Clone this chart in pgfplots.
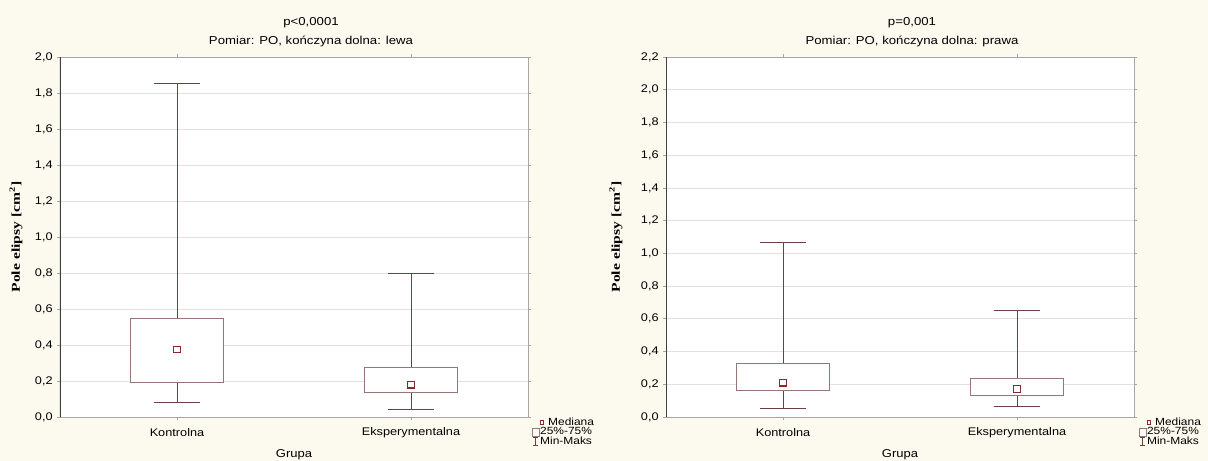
\documentclass[border=0pt]{standalone}
\usepackage{fontspec}
\setmainfont{Liberation Sans}[FakeStretch=1.15]
\newfontfamily\ylabfont{Liberation Serif}[FakeStretch=1.3]
\usepackage{pgfplots}
\pgfplotsset{compat=1.18}
\usepgfplotslibrary{statistics}
\definecolor{bg}{RGB}{252,249,239}
\definecolor{boxc}{RGB}{150,118,118}
\definecolor{whc}{RGB}{105,65,65}
\definecolor{medc}{RGB}{140,40,50}
\definecolor{gridc}{RGB}{225,225,225}
\pgfplotsset{
  mystyle/.style={
    scale only axis, width=351pt, height=270pt,
    anchor=south west,
    xmin=-0.5, xmax=1.5, ymin=0,
    xtick={0,1}, xticklabels={Kontrolna,Eksperymentalna},
    ymajorgrids, grid style={gridc, line width=0.5pt},
    axis line style={gray!70, line width=0.6pt},
    tick style={gray!70, line width=0.5pt},
    tick align=outside, major tick length=2pt,
    axis background/.style={fill=white},
    ticklabel style={font=\fontsize{8.3}{9}\selectfont},
    /pgf/number format/use comma,
    /pgf/number format/fixed,
    /pgf/number format/fixed zerofill,
    /pgf/number format/precision=1,
    /pgf/number format/assume math mode=true,
    xticklabel style={anchor=center, yshift=-10pt},
    xlabel={Grupa},
    xlabel style={at={(axis description cs:0.5,-0.105)}, anchor=center, font=\fontsize{8.5}{10}\selectfont},
    ylabel={\ylabfont\bfseries Pole elipsy [cm\textsuperscript{2}]},
    ylabel style={anchor=center, font=\fontsize{9}{10}\selectfont},
    legend style={draw=none, fill=none, anchor=north west,
      font=\fontsize{7.8}{8.5}\selectfont,
      row sep=-1.2pt, inner sep=0pt, nodes={inner sep=0.6pt}},
    legend cell align=left,
  },
  bx/.style={forget plot, boxplot/draw direction=y,
    boxplot/every box/.style={draw=boxc, fill=white, line width=0.6pt},
    boxplot/every whisker/.style={draw=whc, line width=0.6pt},
    boxplot/every median/.style={draw opacity=0},
    boxplot/box extend=0.4, boxplot/whisker extend=0.2},
  md/.style={forget plot, only marks, mark=square*, mark size=2.3pt,
    mark options={draw=medc, fill=white, line width=0.8pt}},
}
\newcommand{\legendentries}{%
  \addlegendimage{draw=none, fill=none, legend image code/.code={\path[draw=none, fill=none] (0pt,-3.2pt) rectangle (5.2pt,3.2pt);
      \draw[overlay, draw=medc, line width=0.7pt, fill=white] (5.8pt,-1.5pt) rectangle (8.6pt,1.5pt);}}
  \addlegendentry{\hspace{6pt}Mediana}
  \addlegendimage{draw=none, fill=none, legend image code/.code={\path[draw=none, fill=none] (0pt,-3.2pt) rectangle (5.2pt,3.2pt);
      \draw[draw=boxc, line width=0.5pt, fill=white] (0pt,-3.1pt) rectangle (5pt,3.1pt);}}
  \addlegendentry{25\%-75\%}
  \addlegendimage{draw=none, fill=none, legend image code/.code={\path[draw=none, fill=none] (0pt,-3.2pt) rectangle (5.2pt,3.2pt);
      \draw[draw=whc, line width=0.5pt] (0.6pt,-3.1pt) -- (4.6pt,-3.1pt) (2.6pt,-3.1pt) -- (2.6pt,3.1pt) (0.6pt,3.1pt) -- (4.6pt,3.1pt);}}
  \addlegendentry{Min-Maks}%
}
\begin{document}
\begin{tikzpicture}
\path[use as bounding box, fill=bg] (0pt,0pt) rectangle (906pt,345.75pt);
\node[font=\fontsize{8.6}{10}\selectfont] at (233.25pt,328.5pt) {p<0,0001};
\node[font=\fontsize{8.6}{10}\selectfont] at (233.25pt,315pt) {Pomiar: PO, kończyna dolna: lewa};
\node[font=\fontsize{8.6}{10}\selectfont] at (684pt,328.5pt) {p=0,001};
\node[font=\fontsize{8.6}{10}\selectfont] at (684pt,315pt) {Pomiar: PO, kończyna dolna: prawa};

\begin{axis}[mystyle, at={(45pt,33pt)}, ymax=2.0, ytick={0,0.2,...,2.01},
  ylabel style={at={(axis description cs:-0.094,0.5)}},
  legend style={at={(1.008,0.0)}}]
\legendentries
\addplot[bx, boxplot prepared={lower whisker=0.082, lower quartile=0.195, median=0.375,
  upper quartile=0.55, upper whisker=1.854, draw position=0}] coordinates {};
\addplot[bx, boxplot prepared={lower whisker=0.044, lower quartile=0.137, median=0.178,
  upper quartile=0.276, upper whisker=0.80, draw position=1}] coordinates {};
\addplot[md] coordinates {(0,0.375) (1,0.178)};
\draw[black!75, line width=0.8pt] (rel axis cs:0,0) -- (rel axis cs:0,1);
\end{axis}

\begin{axis}[mystyle, at={(499.5pt,33pt)}, ymax=2.2, ytick={0,0.2,...,2.21},
  ylabel style={at={(axis description cs:-0.107,0.5)}},
  legend style={at={(1.01,0.0)}}]
\legendentries
\addplot[bx, boxplot prepared={lower whisker=0.055, lower quartile=0.165, median=0.208,
  upper quartile=0.33, upper whisker=1.07, draw position=0}] coordinates {};
\addplot[bx, boxplot prepared={lower whisker=0.067, lower quartile=0.134, median=0.171,
  upper quartile=0.238, upper whisker=0.654, draw position=1}] coordinates {};
\addplot[md] coordinates {(0,0.208) (1,0.171)};
\draw[black!75, line width=0.8pt] (rel axis cs:0,0) -- (rel axis cs:0,1);
\end{axis}
\end{tikzpicture}
\end{document}
